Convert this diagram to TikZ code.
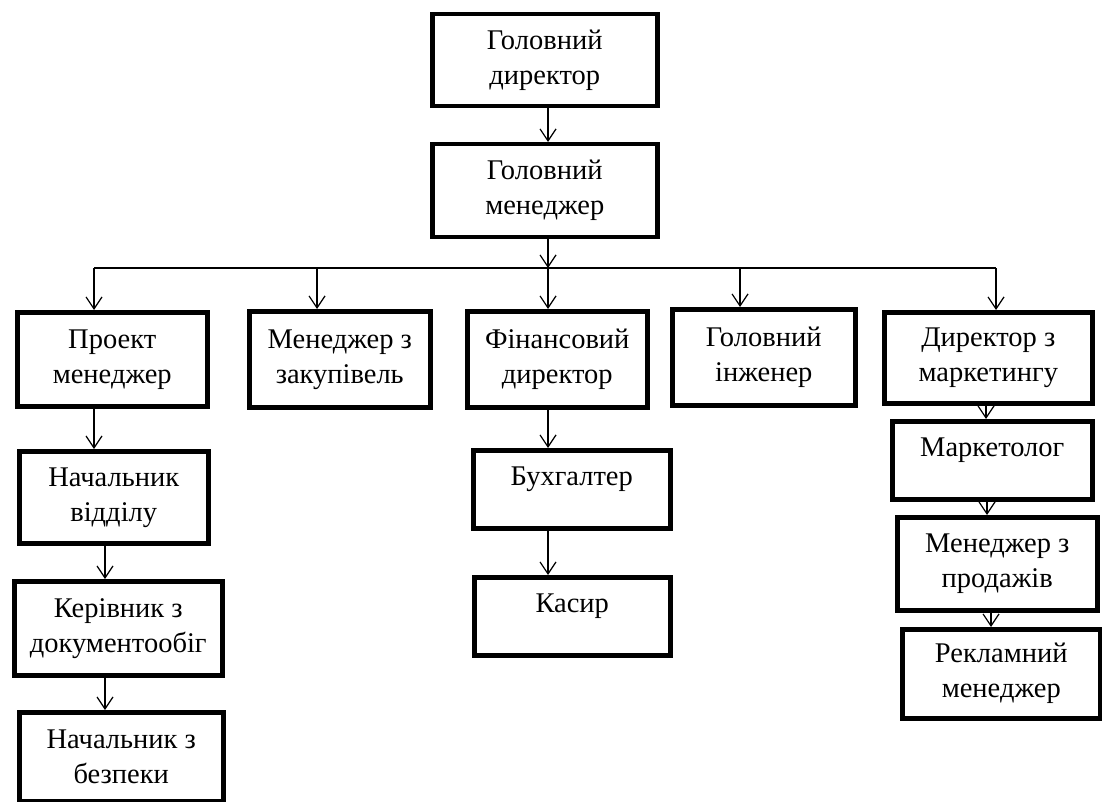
\documentclass[tikz,border=0pt]{standalone}
\usepackage{fontspec}
\setmainfont{Liberation Serif}
\usetikzlibrary{arrows.meta}

\tikzset{
  post/.style={draw, line width=4.5pt, anchor=north west, align=center,
    inner xsep=0pt, inner ysep=0pt, font=\fontsize{28.5}{35}\selectfont},
  oneline/.style={text height=35pt, text depth=43pt},
  arr/.style={-{Straight Barb[length=12pt,width=16pt]}, line width=1.2pt},
}

\begin{document}
\begin{tikzpicture}[x=1pt, y=-1pt]
  \useasboundingbox (0,0) rectangle (1102,802);

  % top of the tree
  \node[post, minimum width=225pt, minimum height=92pt] (gd) at (430,12) {Головний\\директор};
  \node[post, minimum width=225pt, minimum height=93pt] (gm) at (430,142) {Головний\\менеджер};

  % second row
  \node[post, minimum width=190pt, minimum height=94pt] (pm) at (15,310) {Проект\\менеджер};
  \node[post, minimum width=181pt, minimum height=96pt] (mz) at (247,309) {Менеджер з\\закупівель};
  \node[post, minimum width=180pt, minimum height=96pt] (fd) at (465,309) {Фінансовий\\директор};
  \node[post, minimum width=183pt, minimum height=96pt] (gi) at (670,307) {Головний\\інженер};
  \node[post, minimum width=208pt, minimum height=91pt] (dm) at (882,310) {Директор з\\маркетингу};

  % left column
  \node[post, minimum width=189pt, minimum height=92pt] (nv) at (17,449) {Начальник\\відділу};
  \node[post, minimum width=208pt, minimum height=94pt] (kd) at (12,579) {Керівник з\\документообіг};
  \node[post, minimum width=204pt, minimum height=89pt] (nb) at (17,710) {Начальник з\\безпеки};

  % finance column
  \node[post, oneline, minimum width=197pt] (bh) at (471,448) {Бухгалтер};
  \node[post, oneline, minimum width=196pt] (ks) at (472,575) {Касир};

  % marketing column
  \node[post, oneline, minimum width=200pt] (mk) at (890,419) {Маркетолог};
  \node[post, minimum width=200pt, minimum height=93pt] (mp) at (895,515) {Менеджер з\\продажів};
  \node[post, minimum width=198pt, minimum height=89pt] (rm) at (900,627) {Рекламний\\менеджер};

  \coordinate (bus) at (0,268);

  \draw[arr] (548,0 |- gd.south) -- (548,0 |- gm.north);
  \draw[arr] (548,0 |- gm.south) -- (bus -| 548,0);
  \draw[line width=1.2pt] (bus -| 94,0) -- (bus -| 996,0);
  \foreach \x/\n in {94/pm, 317/mz, 548/fd, 740/gi, 996/dm}
    \draw[arr] (bus -| \x,0) -- (\x,0 |- \n.north);

  \draw[arr] (94,0 |- pm.south) -- (94,0 |- nv.north);
  \draw[arr] (105,0 |- nv.south) -- (105,0 |- kd.north);
  \draw[arr] (105,0 |- kd.south) -- (105,0 |- nb.north);

  \draw[arr] (548,0 |- fd.south) -- (548,0 |- bh.north);
  \draw[arr] (548,0 |- bh.south) -- (548,0 |- ks.north);

  \draw[arr] (986,0 |- dm.south) -- (986,0 |- mk.north);
  \draw[arr] (987,0 |- mk.south) -- (987,0 |- mp.north);
  \draw[arr] (991,0 |- mp.south) -- (991,0 |- rm.north);
\end{tikzpicture}
\end{document}
